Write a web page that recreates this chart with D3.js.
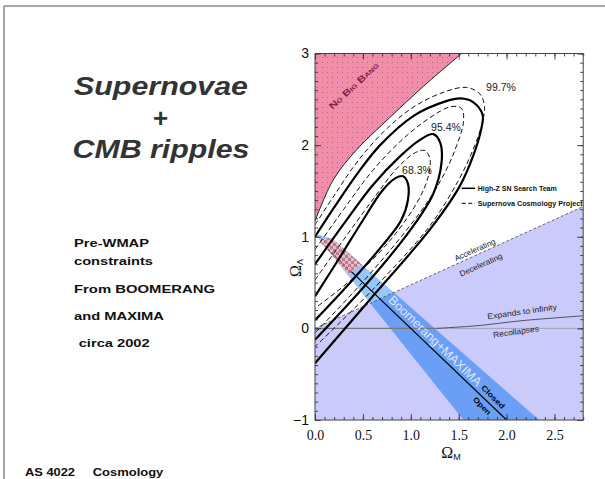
<!DOCTYPE html>
<html>
<head>
<meta charset="utf-8">
<script src="https://cdn.jsdelivr.net/npm/d3@7"></script>
<style>
  html, body { margin: 0; padding: 0; background: #fff; }
  svg { display: block; }
</style>
</head>
<body>
<svg id="slide" width="605" height="479"></svg>
<script>
// ---- data (Omega_M, Omega_Lambda) ----
const xTickValues = [0, 0.5, 1.0, 1.5, 2.0, 2.5];
const yTickValues = [-1, 0, 1, 2, 3];

// "No Big Bang" boundary
const noBigBangEdge = [[0, 1.17], [0.19, 1.62], [0.435, 1.95], [0.78, 2.30], [1.13, 2.64], [1.53, 3.0]];

// accelerating / decelerating divide
const accelLine = [[0, 0], [2.8, 1.33]];
// expands forever / recollapses divide
const recollapseLine = [[1.27, 0], [1.7, 0.03], [2.17, 0.085], [2.8, 0.137]];

// Boomerang + MAXIMA band (left edge top->bottom, then right edge bottom->top)
const cmbBandLeft = [[0, 1.03], [1.55, -1]];
const cmbBandRight = [[2.34, -1], [0.18, 0.98]];
const cmbOverlap = [[0.03, 0.98], [0.24, 0.98], [0.49, 0.70], [0.36, 0.59], [0.03, 0.90]];

// flat universe line
const flatDashed = [[0.06, 0.94], [0.38, 0.62]];
const flatSolid = [[0.38, 0.62], [2.0, -1]];

// supernova confidence contours
const hzInner = [[0, 0.35], [0.25, 0.76], [0.5, 1.18], [0.7, 1.50], [0.84, 1.64], [0.92, 1.66], [0.97, 1.58], [0.97, 1.40], [0.9, 1.18], [0.7, 0.9], [0.35, 0.48], [0, 0.09]];
const hzMiddle = [[0, 0.70], [0.3, 1.14], [0.6, 1.56], [0.89, 1.88], [1.1, 2.06], [1.235, 2.12], [1.31, 2.02], [1.32, 1.80], [1.235, 1.47], [1.0, 1.08], [0.55, 0.50], [0, -0.125]];
const hzOuter = [[0, 1.0], [0.2, 1.32], [0.45, 1.70], [0.68, 2.0], [1.03, 2.32], [1.37, 2.48], [1.52, 2.51], [1.65, 2.47], [1.75, 2.33], [1.73, 2.15], [1.65, 1.88], [1.51, 1.55], [1.2, 1.08], [0.57, 0.31], [0, -0.38]];
const scpInner = [[0, 0.53], [0.3, 0.97], [0.6, 1.40], [0.85, 1.74], [1.05, 1.92], [1.15, 1.94], [1.2, 1.85], [1.18, 1.65], [1.08, 1.40], [0.8, 0.98], [0.4, 0.55], [0, 0.22]];
const scpMiddle = [[0, 0.86], [0.3, 1.30], [0.6, 1.72], [0.9, 2.05], [1.2, 2.30], [1.42, 2.42], [1.53, 2.40], [1.55, 2.25], [1.48, 2.0], [1.38, 1.75], [1.2, 1.42], [0.9, 1.0], [0.45, 0.45], [0, -0.05]];
const scpOuter = [[0, 1.13], [0.2, 1.45], [0.45, 1.83], [0.75, 2.18], [1.05, 2.43], [1.35, 2.58], [1.58, 2.63], [1.72, 2.56], [1.77, 2.42], [1.74, 2.22], [1.65, 1.95], [1.5, 1.62], [1.2, 1.12], [0.6, 0.42], [0, -0.2]];

const contourLevels = [
  { name: "68.3%", at: [417, 170] },
  { name: "95.4%", at: [446, 127] },
  { name: "99.7%", at: [501, 87] }
];

const sideText = ["Pre-WMAP", "constraints", "From BOOMERANG", "and MAXIMA", " circa 2002"];

// ---- scales ----
const x = d3.scaleLinear().domain([0, 2.8]).range([315, 583.2]);
const y = d3.scaleLinear().domain([-1, 3]).range([420, 53.5]);

const svg = d3.select("#slide");
const defs = svg.append("defs");

defs.append("clipPath").attr("id", "plotClip")
  .append("rect").attr("x", x(0)).attr("y", y(3))
  .attr("width", x(2.8) - x(0)).attr("height", y(-1) - y(3));

const dots = defs.append("pattern").attr("id", "pinkDots")
  .attr("patternUnits", "userSpaceOnUse").attr("width", 5).attr("height", 5);
dots.append("rect").attr("width", 5).attr("height", 5).attr("fill", "#f18fab");
dots.append("rect").attr("x", 2).attr("y", 2).attr("width", 1).attr("height", 1).attr("fill", "#c5607e");

const checker = defs.append("pattern").attr("id", "checker")
  .attr("patternUnits", "userSpaceOnUse").attr("width", 6).attr("height", 6);
checker.append("rect").attr("width", 6).attr("height", 6).attr("fill", "#dcc0cc");
checker.append("rect").attr("width", 3).attr("height", 3).attr("fill", "#c07a8c");
checker.append("rect").attr("x", 3).attr("y", 3).attr("width", 3).attr("height", 3).attr("fill", "#c07a8c");

const bandPts = cmbBandLeft.concat(cmbBandRight);
const lavenderPts = [accelLine[0], accelLine[1], [2.8, -1], [0, -1]];

defs.append("clipPath").attr("id", "decelClip")
  .append("path").attr("d", d3.line().x(d => x(d[0])).y(d => y(d[1]))(lavenderPts) + "Z");
defs.append("clipPath").attr("id", "bandClip")
  .append("path").attr("d", d3.line().x(d => x(d[0])).y(d => y(d[1]))(bandPts) + "Z");

const line = d3.line().x(d => x(d[0])).y(d => y(d[1]));
const smooth = d3.line().x(d => x(d[0])).y(d => y(d[1])).curve(d3.curveCatmullRom.alpha(0.5));

// ---- slide frame ----
svg.append("line").attr("x1", 4).attr("y1", 6).attr("x2", 605).attr("y2", 6)
  .attr("stroke", "#888").attr("stroke-width", 1.5);
svg.append("line").attr("x1", 4).attr("y1", 6).attr("x2", 4).attr("y2", 479)
  .attr("stroke", "#888").attr("stroke-width", 1.5);

// ---- slide text ----
const title = svg.append("g").attr("font-family", "Liberation Sans, Arial, sans-serif")
  .attr("font-weight", "bold").attr("font-style", "italic").attr("fill", "#333")
  .attr("font-size", 26).attr("text-anchor", "middle");
title.append("text").attr("x", 161).attr("y", 95).attr("textLength", 174).attr("lengthAdjust", "spacingAndGlyphs").text("Supernovae");
title.append("text").attr("x", 160.5).attr("y", 127).attr("font-style", "normal").text("+");
title.append("text").attr("x", 161).attr("y", 158).attr("textLength", 177).attr("lengthAdjust", "spacingAndGlyphs").text("CMB ripples");

const sideY = [246.7, 265, 293.3, 320, 346.7];
const sideW = [75, 79, 141, 90, 71];
const sideX = [74, 74, 74, 74, 78.7];
svg.append("g").attr("font-family", "Liberation Sans, Arial, sans-serif")
  .attr("font-weight", "bold").attr("font-size", 11.5).attr("fill", "#111")
  .selectAll("text").data(sideText).join("text")
  .attr("x", (d, i) => sideX[i]).attr("y", (d, i) => sideY[i])
  .attr("textLength", (d, i) => sideW[i]).attr("lengthAdjust", "spacingAndGlyphs")
  .text(d => d.trim());

const foot = svg.append("g").attr("font-family", "Liberation Sans, Arial, sans-serif")
  .attr("font-weight", "bold").attr("font-size", 10.5).attr("fill", "#111");
foot.append("text").attr("x", 25).attr("y", 476).attr("textLength", 50).attr("lengthAdjust", "spacingAndGlyphs").text("AS 4022");
foot.append("text").attr("x", 92.7).attr("y", 476).attr("textLength", 70.6).attr("lengthAdjust", "spacingAndGlyphs").text("Cosmology");

// ---- plot regions ----
const plot = svg.append("g").attr("clip-path", "url(#plotClip)");

plot.append("path").attr("d", line(lavenderPts) + "Z").attr("fill", "#cbcbfb");

plot.append("path").attr("d", smooth(noBigBangEdge) + "L" + x(0) + "," + y(3) + "Z")
  .attr("fill", "url(#pinkDots)");
plot.append("path").attr("d", smooth(noBigBangEdge)).attr("fill", "none")
  .attr("stroke", "#222").attr("stroke-width", 1);

plot.append("path").attr("d", line(bandPts) + "Z").attr("fill", "#97c6fb");
plot.append("g").attr("clip-path", "url(#decelClip)")
  .append("path").attr("d", line(bandPts) + "Z").attr("fill", "#6b9ff6");
plot.append("g").attr("clip-path", "url(#bandClip)")
  .append("path").attr("d", line(cmbOverlap) + "Z").attr("fill", "url(#checker)");

// divides
plot.append("path").attr("d", line(accelLine)).attr("stroke", "#444")
  .attr("stroke-width", 0.8).attr("stroke-dasharray", "3,2").attr("fill", "none");
plot.append("path").attr("d", line([[0, 0], recollapseLine[0]])).attr("stroke", "#777")
  .attr("stroke-width", 1.3).attr("fill", "none");
plot.append("path").attr("d", line([recollapseLine[0], [2.8, 0]])).attr("stroke", "#777")
  .attr("stroke-width", 1).attr("stroke-dasharray", "1,1").attr("fill", "none");
plot.append("path").attr("d", smooth(recollapseLine)).attr("stroke", "#333")
  .attr("stroke-width", 0.8).attr("fill", "none");

// flat universe
plot.append("path").attr("d", line(flatDashed)).attr("stroke", "#a0304a")
  .attr("stroke-width", 1).attr("stroke-dasharray", "3,2").attr("fill", "none");
plot.append("path").attr("d", line(flatSolid)).attr("stroke", "#000")
  .attr("stroke-width", 1.2).attr("fill", "none");

// contours
[hzInner, hzMiddle, hzOuter].forEach(c => {
  plot.append("path").attr("d", smooth(c)).attr("fill", "none")
    .attr("stroke", "#000").attr("stroke-width", 2.2);
});
[scpInner, scpMiddle, scpOuter].forEach(c => {
  plot.append("path").attr("d", smooth(c)).attr("fill", "none")
    .attr("stroke", "#111").attr("stroke-width", 1).attr("stroke-dasharray", "5,3");
});

// ---- labels inside plot ----
const sans = "Liberation Sans, Arial, Helvetica, sans-serif";
svg.append("g").attr("font-family", sans).attr("font-size", 10.5).attr("fill", "#222")
  .attr("text-anchor", "middle")
  .selectAll("text").data(contourLevels).join("text")
  .attr("x", d => d.at[0]).attr("y", d => d.at[1] + 4).text(d => d.name);

svg.append("text").attr("transform", "translate(356,88) rotate(-43)")
  .attr("text-anchor", "middle").attr("font-family", sans).attr("font-weight", "bold")
  .attr("font-size", 9).attr("fill", "#8a1a3e").attr("font-variant", "small-caps")
  .attr("textLength", 64).attr("lengthAdjust", "spacingAndGlyphs")
  .text("No Big Bang");

function rotText(t, cx, cy, ang, size, opts) {
  const el = svg.append("text").attr("transform", `translate(${cx},${cy}) rotate(${ang})`)
    .attr("text-anchor", "middle").attr("dominant-baseline", "central")
    .attr("font-family", sans).attr("font-size", size).attr("fill", opts.fill || "#222")
    .attr("font-weight", opts.weight || "normal").text(t);
  if (opts.len) el.attr("textLength", opts.len).attr("lengthAdjust", "spacingAndGlyphs");
  return el;
}
rotText("Accelerating", 475, 250, -24, 8, { len: 44 });
rotText("Decelerating", 481, 265, -24, 8, { len: 46 });
rotText("Expands to infinity", 522, 312, -8, 8, { len: 70 });
rotText("Recollapses", 516, 332, -8, 8, { len: 46 });
rotText("Boomerang+MAXIMA", 435, 341, 44, 12.5, { fill: "#dfe4ff", len: 124 });
rotText("Closed", 493, 397, 45, 7.5, { weight: "bold", fill: "#000", len: 30 });
rotText("Open", 482, 406, 45, 7.5, { weight: "bold", fill: "#000", len: 22 });

// legend
const legend = svg.append("g").attr("font-family", sans).attr("font-weight", "bold")
  .attr("font-size", 7.5).attr("fill", "#111");
legend.append("line").attr("x1", 461.7).attr("x2", 475).attr("y1", 188.3).attr("y2", 188.3)
  .attr("stroke", "#000").attr("stroke-width", 1.5);
legend.append("text").attr("x", 477.7).attr("y", 191).attr("textLength", 79)
  .attr("lengthAdjust", "spacingAndGlyphs").text("High-Z SN Search Team");
legend.append("line").attr("x1", 461.7).attr("x2", 475).attr("y1", 203.3).attr("y2", 203.3)
  .attr("stroke", "#000").attr("stroke-width", 1).attr("stroke-dasharray", "4,2.5");
legend.append("text").attr("x", 477.7).attr("y", 206).attr("textLength", 105)
  .attr("lengthAdjust", "spacingAndGlyphs").text("Supernova Cosmology Project");

// ---- axes ----
const axisG = svg.append("g");
const major = 6, minor = 3;
const minorX = x.ticks(28), minorY = y.ticks(40);

axisG.append("g").attr("transform", `translate(0,${y(-1)})`)
  .call(d3.axisBottom(x).tickValues(minorX).tickSizeInner(-minor).tickSizeOuter(0).tickFormat(""));
axisG.append("g").attr("transform", `translate(0,${y(3)})`)
  .call(d3.axisTop(x).tickValues(minorX).tickSizeInner(-minor).tickSizeOuter(0).tickFormat(""));
axisG.append("g").attr("transform", `translate(${x(0)},0)`)
  .call(d3.axisLeft(y).tickValues(minorY).tickSizeInner(-minor).tickSizeOuter(0).tickFormat(""));
axisG.append("g").attr("transform", `translate(${x(2.8)},0)`)
  .call(d3.axisRight(y).tickValues(minorY).tickSizeInner(-minor).tickSizeOuter(0).tickFormat(""));

const xb = axisG.append("g").attr("transform", `translate(0,${y(-1)})`)
  .call(d3.axisBottom(x).tickValues(xTickValues).tickSizeInner(-major).tickSizeOuter(0)
    .tickPadding(10.5).tickFormat(d3.format(".1f")));
xb.selectAll("text").attr("font-family", "Liberation Serif, Times New Roman, serif")
  .attr("font-size", 14).attr("fill", "#111");
axisG.append("g").attr("transform", `translate(0,${y(3)})`)
  .call(d3.axisTop(x).tickValues(xTickValues).tickSizeInner(-major).tickSizeOuter(0).tickFormat(""));

const yl = axisG.append("g").attr("transform", `translate(${x(0)},0)`)
  .call(d3.axisLeft(y).tickValues(yTickValues).tickSizeInner(-major).tickSizeOuter(0)
    .tickPadding(6).tickFormat(d3.format("d")));
yl.selectAll("text").attr("font-family", sans).attr("font-size", 14).attr("fill", "#111");
axisG.append("g").attr("transform", `translate(${x(2.8)},0)`)
  .call(d3.axisRight(y).tickValues(yTickValues).tickSizeInner(-major).tickSizeOuter(0).tickFormat(""));

axisG.selectAll(".domain").remove();
axisG.selectAll("line").attr("stroke", "#333").attr("stroke-width", 0.9);

svg.append("rect").attr("x", x(0)).attr("y", y(3))
  .attr("width", x(2.8) - x(0)).attr("height", y(-1) - y(3))
  .attr("fill", "none").attr("stroke", "#444").attr("stroke-width", 1);

// axis titles
const xt = svg.append("text").attr("x", 451).attr("y", 458.3).attr("text-anchor", "middle")
  .attr("fill", "#111");
xt.append("tspan").attr("font-family", "Liberation Serif, serif").attr("font-size", 16).text("Ω");
xt.append("tspan").attr("font-family", sans).attr("font-size", 9).attr("dy", 2).text("M");

const yt = svg.append("text").attr("transform", "translate(301,268) rotate(-90)")
  .attr("text-anchor", "middle").attr("fill", "#111");
yt.append("tspan").attr("font-family", "Liberation Serif, serif").attr("font-size", 16).text("Ω");
yt.append("tspan").attr("font-family", sans).attr("font-size", 9).attr("dy", 2).text("Λ");
</script>
</body>
</html>
